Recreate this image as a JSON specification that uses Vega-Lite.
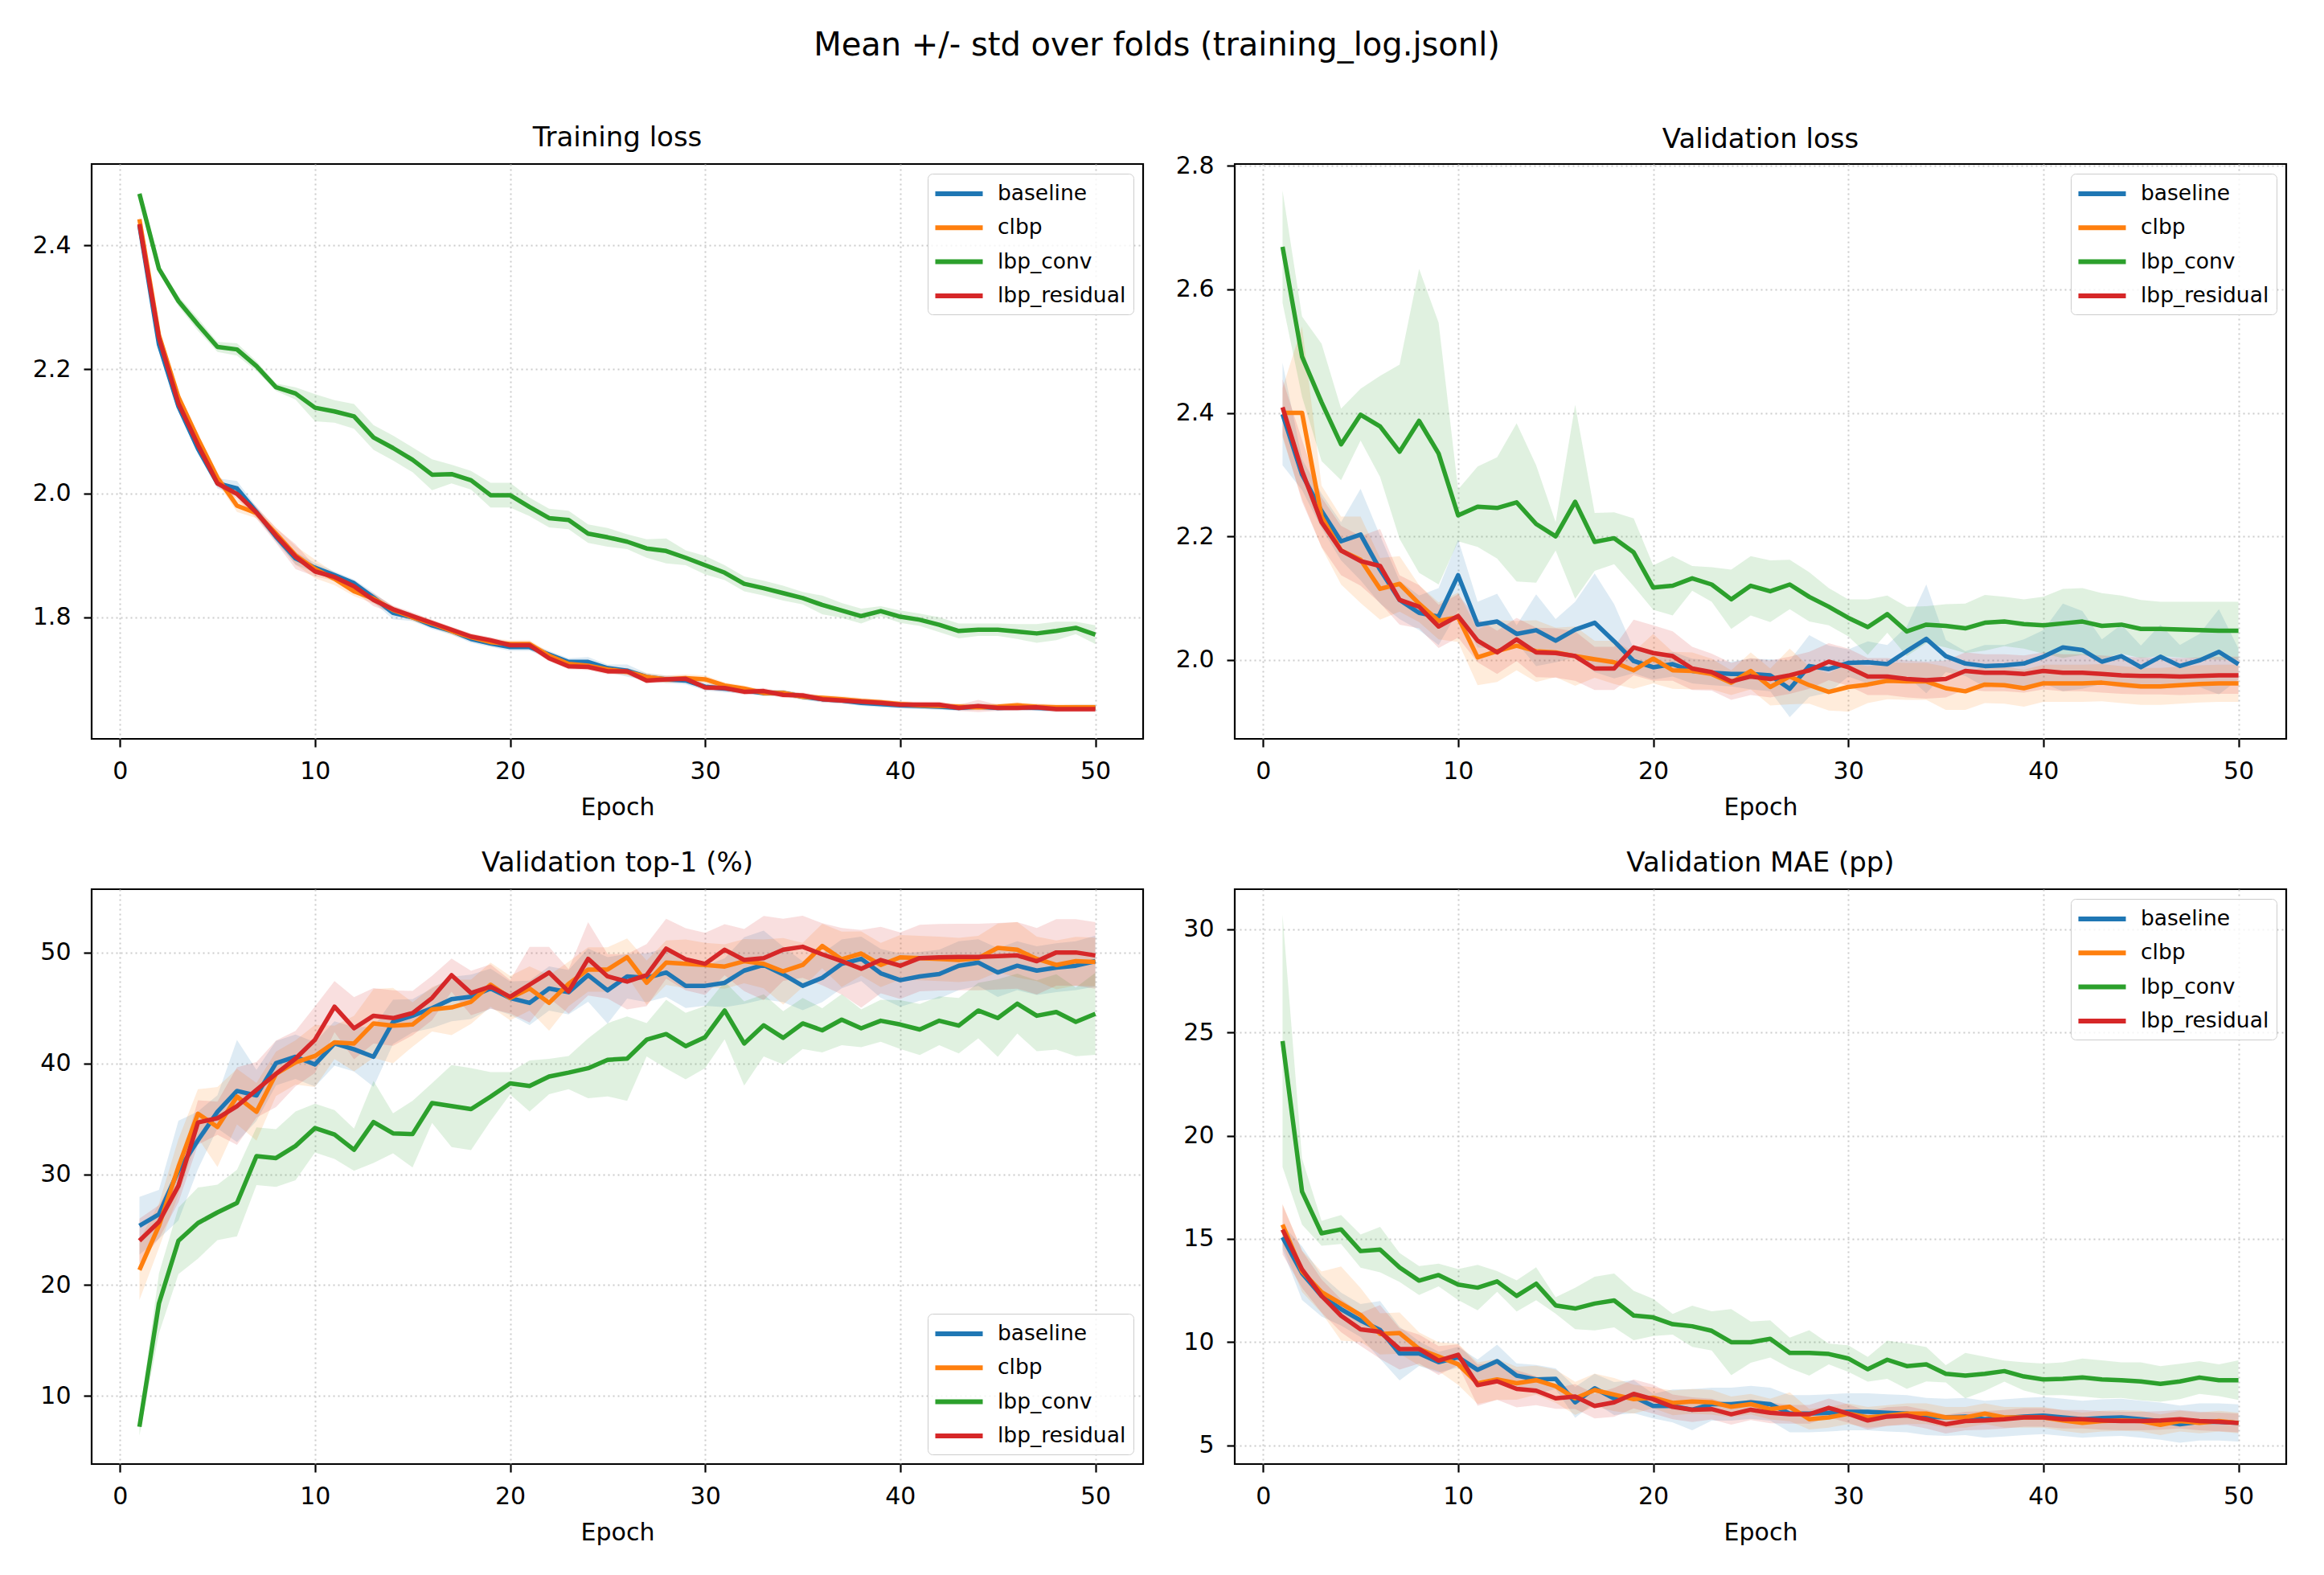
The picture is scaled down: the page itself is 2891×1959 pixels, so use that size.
{
"$schema":"https://vega.github.io/schema/vega-lite/v6.json",
"background":"white",
"padding":{"left":32,"top":36,"right":10,"bottom":10},
"title":{"text":"Mean +/- std over folds (training_log.jsonl)","fontSize":40,"frame":"bounds","offset":45,"anchor":"middle","baseline":"alphabetic"},
"config":{
"font":"DejaVu Sans",
"view":{"stroke":"#000","strokeWidth":2.2},
"axis":{"domain":false,"grid":true,"gridColor":"#cccccc","gridDash":[2,4],"gridWidth":2,"ticks":true,"tickColor":"#000","tickSize":10,"tickWidth":2.2,"labelFont":"DejaVu Sans","labelFontSize":30,"labelColor":"#000","labelFlush":false,"labelPadding":15,"titleFont":"DejaVu Sans","titleFontSize":30,"titleFontWeight":"normal","titleColor":"#000","titlePadding":15},
"axisY":{"minExtent":80,"maxExtent":80,"labelPadding":16},
"title":{"font":"DejaVu Sans","fontSize":34,"fontWeight":"normal","color":"#000","baseline":"alphabetic","offset":15,"anchor":"middle"},
"legend":{"offset":12,"padding":9,"fillColor":"rgba(255,255,255,0.8)","strokeColor":"#cccccc","cornerRadius":6,"symbolType":"M-2.27,0H2.27","symbolSize":676,"symbolStrokeWidth":6,"symbolOffset":14,"labelOffset":32,"rowPadding":12.3,"labelFont":"DejaVu Sans","labelFontSize":26.5,"labelColor":"#000"}
},
"columns":2,
"spacing":{"row":34,"column":30},
"resolve":{"scale":{"stroke":"independent","fill":"independent"},"legend":{"stroke":"independent","fill":"independent"}},
"datasets":{
"tl":[
{"m":"baseline","e":1,"y":2.432,"s":0.005},{"m":"baseline","e":2,"y":2.240,"s":0.006},{"m":"baseline","e":3,"y":2.140,"s":0.006},{"m":"baseline","e":4,"y":2.072,"s":0.008},{"m":"baseline","e":5,"y":2.016,"s":0.008},{"m":"baseline","e":6,"y":2.008,"s":0.012},{"m":"baseline","e":7,"y":1.970,"s":0.008},{"m":"baseline","e":8,"y":1.930,"s":0.008},{"m":"baseline","e":9,"y":1.895,"s":0.01},{"m":"baseline","e":10,"y":1.880,"s":0.008},
{"m":"baseline","e":11,"y":1.868,"s":0.006},{"m":"baseline","e":12,"y":1.855,"s":0.006},{"m":"baseline","e":13,"y":1.832,"s":0.008},{"m":"baseline","e":14,"y":1.807,"s":0.01},{"m":"baseline","e":15,"y":1.800,"s":0.006},{"m":"baseline","e":16,"y":1.787,"s":0.006},{"m":"baseline","e":17,"y":1.778,"s":0.006},{"m":"baseline","e":18,"y":1.765,"s":0.006},{"m":"baseline","e":19,"y":1.758,"s":0.006},{"m":"baseline","e":20,"y":1.752,"s":0.006},
{"m":"baseline","e":21,"y":1.752,"s":0.006},{"m":"baseline","e":22,"y":1.740,"s":0.006},{"m":"baseline","e":23,"y":1.728,"s":0.006},{"m":"baseline","e":24,"y":1.728,"s":0.008},{"m":"baseline","e":25,"y":1.718,"s":0.006},{"m":"baseline","e":26,"y":1.714,"s":0.01},{"m":"baseline","e":27,"y":1.704,"s":0.006},{"m":"baseline","e":28,"y":1.700,"s":0.006},{"m":"baseline","e":29,"y":1.698,"s":0.006},{"m":"baseline","e":30,"y":1.688,"s":0.006},
{"m":"baseline","e":31,"y":1.685,"s":0.006},{"m":"baseline","e":32,"y":1.682,"s":0.005},{"m":"baseline","e":33,"y":1.678,"s":0.005},{"m":"baseline","e":34,"y":1.678,"s":0.005},{"m":"baseline","e":35,"y":1.672,"s":0.005},{"m":"baseline","e":36,"y":1.668,"s":0.005},{"m":"baseline","e":37,"y":1.666,"s":0.005},{"m":"baseline","e":38,"y":1.662,"s":0.005},{"m":"baseline","e":39,"y":1.660,"s":0.005},{"m":"baseline","e":40,"y":1.658,"s":0.005},
{"m":"baseline","e":41,"y":1.657,"s":0.005},{"m":"baseline","e":42,"y":1.656,"s":0.005},{"m":"baseline","e":43,"y":1.654,"s":0.005},{"m":"baseline","e":44,"y":1.656,"s":0.005},{"m":"baseline","e":45,"y":1.654,"s":0.005},{"m":"baseline","e":46,"y":1.655,"s":0.005},{"m":"baseline","e":47,"y":1.654,"s":0.005},{"m":"baseline","e":48,"y":1.653,"s":0.005},{"m":"baseline","e":49,"y":1.654,"s":0.005},{"m":"baseline","e":50,"y":1.654,"s":0.005},
{"m":"clbp","e":1,"y":2.442,"s":0.005},{"m":"clbp","e":2,"y":2.255,"s":0.006},{"m":"clbp","e":3,"y":2.155,"s":0.008},{"m":"clbp","e":4,"y":2.088,"s":0.008},{"m":"clbp","e":5,"y":2.025,"s":0.008},{"m":"clbp","e":6,"y":1.980,"s":0.01},{"m":"clbp","e":7,"y":1.968,"s":0.008},{"m":"clbp","e":8,"y":1.935,"s":0.01},{"m":"clbp","e":9,"y":1.900,"s":0.015},{"m":"clbp","e":10,"y":1.878,"s":0.015},
{"m":"clbp","e":11,"y":1.862,"s":0.01},{"m":"clbp","e":12,"y":1.842,"s":0.008},{"m":"clbp","e":13,"y":1.830,"s":0.008},{"m":"clbp","e":14,"y":1.812,"s":0.006},{"m":"clbp","e":15,"y":1.800,"s":0.006},{"m":"clbp","e":16,"y":1.790,"s":0.006},{"m":"clbp","e":17,"y":1.778,"s":0.006},{"m":"clbp","e":18,"y":1.768,"s":0.006},{"m":"clbp","e":19,"y":1.760,"s":0.006},{"m":"clbp","e":20,"y":1.757,"s":0.006},
{"m":"clbp","e":21,"y":1.757,"s":0.006},{"m":"clbp","e":22,"y":1.738,"s":0.006},{"m":"clbp","e":23,"y":1.725,"s":0.006},{"m":"clbp","e":24,"y":1.722,"s":0.006},{"m":"clbp","e":25,"y":1.716,"s":0.006},{"m":"clbp","e":26,"y":1.712,"s":0.006},{"m":"clbp","e":27,"y":1.704,"s":0.006},{"m":"clbp","e":28,"y":1.700,"s":0.006},{"m":"clbp","e":29,"y":1.702,"s":0.006},{"m":"clbp","e":30,"y":1.700,"s":0.006},
{"m":"clbp","e":31,"y":1.690,"s":0.005},{"m":"clbp","e":32,"y":1.685,"s":0.005},{"m":"clbp","e":33,"y":1.678,"s":0.005},{"m":"clbp","e":34,"y":1.678,"s":0.005},{"m":"clbp","e":35,"y":1.672,"s":0.005},{"m":"clbp","e":36,"y":1.670,"s":0.005},{"m":"clbp","e":37,"y":1.668,"s":0.005},{"m":"clbp","e":38,"y":1.665,"s":0.005},{"m":"clbp","e":39,"y":1.663,"s":0.005},{"m":"clbp","e":40,"y":1.660,"s":0.005},
{"m":"clbp","e":41,"y":1.658,"s":0.005},{"m":"clbp","e":42,"y":1.657,"s":0.005},{"m":"clbp","e":43,"y":1.656,"s":0.005},{"m":"clbp","e":44,"y":1.655,"s":0.005},{"m":"clbp","e":45,"y":1.656,"s":0.005},{"m":"clbp","e":46,"y":1.658,"s":0.005},{"m":"clbp","e":47,"y":1.656,"s":0.005},{"m":"clbp","e":48,"y":1.655,"s":0.005},{"m":"clbp","e":49,"y":1.655,"s":0.005},{"m":"clbp","e":50,"y":1.655,"s":0.005},
{"m":"lbp_conv","e":1,"y":2.483,"s":0.003},{"m":"lbp_conv","e":2,"y":2.362,"s":0.005},{"m":"lbp_conv","e":3,"y":2.310,"s":0.008},{"m":"lbp_conv","e":4,"y":2.272,"s":0.01},{"m":"lbp_conv","e":5,"y":2.236,"s":0.008},{"m":"lbp_conv","e":6,"y":2.232,"s":0.01},{"m":"lbp_conv","e":7,"y":2.205,"s":0.008},{"m":"lbp_conv","e":8,"y":2.171,"s":0.006},{"m":"lbp_conv","e":9,"y":2.161,"s":0.01},{"m":"lbp_conv","e":10,"y":2.138,"s":0.022},
{"m":"lbp_conv","e":11,"y":2.132,"s":0.018},{"m":"lbp_conv","e":12,"y":2.124,"s":0.02},{"m":"lbp_conv","e":13,"y":2.090,"s":0.02},{"m":"lbp_conv","e":14,"y":2.073,"s":0.02},{"m":"lbp_conv","e":15,"y":2.054,"s":0.02},{"m":"lbp_conv","e":16,"y":2.030,"s":0.025},{"m":"lbp_conv","e":17,"y":2.031,"s":0.015},{"m":"lbp_conv","e":18,"y":2.021,"s":0.015},{"m":"lbp_conv","e":19,"y":1.997,"s":0.02},{"m":"lbp_conv","e":20,"y":1.997,"s":0.02},
{"m":"lbp_conv","e":21,"y":1.978,"s":0.015},{"m":"lbp_conv","e":22,"y":1.960,"s":0.015},{"m":"lbp_conv","e":23,"y":1.957,"s":0.015},{"m":"lbp_conv","e":24,"y":1.935,"s":0.015},{"m":"lbp_conv","e":25,"y":1.929,"s":0.015},{"m":"lbp_conv","e":26,"y":1.922,"s":0.012},{"m":"lbp_conv","e":27,"y":1.911,"s":0.015},{"m":"lbp_conv","e":28,"y":1.907,"s":0.02},{"m":"lbp_conv","e":29,"y":1.896,"s":0.012},{"m":"lbp_conv","e":30,"y":1.884,"s":0.015},
{"m":"lbp_conv","e":31,"y":1.872,"s":0.012},{"m":"lbp_conv","e":32,"y":1.854,"s":0.012},{"m":"lbp_conv","e":33,"y":1.847,"s":0.012},{"m":"lbp_conv","e":34,"y":1.839,"s":0.012},{"m":"lbp_conv","e":35,"y":1.831,"s":0.01},{"m":"lbp_conv","e":36,"y":1.820,"s":0.015},{"m":"lbp_conv","e":37,"y":1.811,"s":0.012},{"m":"lbp_conv","e":38,"y":1.802,"s":0.012},{"m":"lbp_conv","e":39,"y":1.810,"s":0.008},{"m":"lbp_conv","e":40,"y":1.801,"s":0.01},
{"m":"lbp_conv","e":41,"y":1.796,"s":0.01},{"m":"lbp_conv","e":42,"y":1.788,"s":0.012},{"m":"lbp_conv","e":43,"y":1.778,"s":0.012},{"m":"lbp_conv","e":44,"y":1.780,"s":0.01},{"m":"lbp_conv","e":45,"y":1.780,"s":0.01},{"m":"lbp_conv","e":46,"y":1.777,"s":0.012},{"m":"lbp_conv","e":47,"y":1.774,"s":0.015},{"m":"lbp_conv","e":48,"y":1.778,"s":0.015},{"m":"lbp_conv","e":49,"y":1.783,"s":0.01},{"m":"lbp_conv","e":50,"y":1.772,"s":0.015},
{"m":"lbp_residual","e":1,"y":2.434,"s":0.005},{"m":"lbp_residual","e":2,"y":2.251,"s":0.005},{"m":"lbp_residual","e":3,"y":2.145,"s":0.008},{"m":"lbp_residual","e":4,"y":2.078,"s":0.008},{"m":"lbp_residual","e":5,"y":2.016,"s":0.005},{"m":"lbp_residual","e":6,"y":1.999,"s":0.008},{"m":"lbp_residual","e":7,"y":1.969,"s":0.01},{"m":"lbp_residual","e":8,"y":1.932,"s":0.012},{"m":"lbp_residual","e":9,"y":1.898,"s":0.02},{"m":"lbp_residual","e":10,"y":1.874,"s":0.008},
{"m":"lbp_residual","e":11,"y":1.865,"s":0.006},{"m":"lbp_residual","e":12,"y":1.850,"s":0.008},{"m":"lbp_residual","e":13,"y":1.828,"s":0.01},{"m":"lbp_residual","e":14,"y":1.813,"s":0.006},{"m":"lbp_residual","e":15,"y":1.802,"s":0.006},{"m":"lbp_residual","e":16,"y":1.791,"s":0.005},{"m":"lbp_residual","e":17,"y":1.780,"s":0.005},{"m":"lbp_residual","e":18,"y":1.769,"s":0.005},{"m":"lbp_residual","e":19,"y":1.763,"s":0.005},{"m":"lbp_residual","e":20,"y":1.755,"s":0.005},
{"m":"lbp_residual","e":21,"y":1.755,"s":0.006},{"m":"lbp_residual","e":22,"y":1.734,"s":0.005},{"m":"lbp_residual","e":23,"y":1.721,"s":0.005},{"m":"lbp_residual","e":24,"y":1.720,"s":0.005},{"m":"lbp_residual","e":25,"y":1.713,"s":0.005},{"m":"lbp_residual","e":26,"y":1.713,"s":0.005},{"m":"lbp_residual","e":27,"y":1.698,"s":0.005},{"m":"lbp_residual","e":28,"y":1.700,"s":0.005},{"m":"lbp_residual","e":29,"y":1.701,"s":0.005},{"m":"lbp_residual","e":30,"y":1.687,"s":0.005},
{"m":"lbp_residual","e":31,"y":1.686,"s":0.005},{"m":"lbp_residual","e":32,"y":1.680,"s":0.005},{"m":"lbp_residual","e":33,"y":1.681,"s":0.005},{"m":"lbp_residual","e":34,"y":1.675,"s":0.005},{"m":"lbp_residual","e":35,"y":1.674,"s":0.005},{"m":"lbp_residual","e":36,"y":1.668,"s":0.005},{"m":"lbp_residual","e":37,"y":1.666,"s":0.005},{"m":"lbp_residual","e":38,"y":1.664,"s":0.005},{"m":"lbp_residual","e":39,"y":1.662,"s":0.005},{"m":"lbp_residual","e":40,"y":1.659,"s":0.005},
{"m":"lbp_residual","e":41,"y":1.659,"s":0.005},{"m":"lbp_residual","e":42,"y":1.659,"s":0.005},{"m":"lbp_residual","e":43,"y":1.654,"s":0.005},{"m":"lbp_residual","e":44,"y":1.657,"s":0.01},{"m":"lbp_residual","e":45,"y":1.654,"s":0.005},{"m":"lbp_residual","e":46,"y":1.654,"s":0.005},{"m":"lbp_residual","e":47,"y":1.655,"s":0.005},{"m":"lbp_residual","e":48,"y":1.652,"s":0.005},{"m":"lbp_residual","e":49,"y":1.652,"s":0.005},{"m":"lbp_residual","e":50,"y":1.652,"s":0.005}
],
"vl":[
{"m":"baseline","e":1,"y":2.398,"s":0.083},{"m":"baseline","e":2,"y":2.300,"s":0.025},{"m":"baseline","e":3,"y":2.241,"s":0.028},{"m":"baseline","e":4,"y":2.192,"s":0.031},{"m":"baseline","e":5,"y":2.203,"s":0.074},{"m":"baseline","e":6,"y":2.146,"s":0.055},{"m":"baseline","e":7,"y":2.097,"s":0.031},{"m":"baseline","e":8,"y":2.076,"s":0.028},{"m":"baseline","e":9,"y":2.070,"s":0.046},{"m":"baseline","e":10,"y":2.137,"s":0.058},
{"m":"baseline","e":11,"y":2.057,"s":0.037},{"m":"baseline","e":12,"y":2.062,"s":0.045},{"m":"baseline","e":13,"y":2.042,"s":0.014},{"m":"baseline","e":14,"y":2.048,"s":0.058},{"m":"baseline","e":15,"y":2.031,"s":0.035},{"m":"baseline","e":16,"y":2.049,"s":0.045},{"m":"baseline","e":17,"y":2.060,"s":0.08},{"m":"baseline","e":18,"y":2.030,"s":0.06},{"m":"baseline","e":19,"y":1.998,"s":0.02},{"m":"baseline","e":20,"y":1.988,"s":0.02},
{"m":"baseline","e":21,"y":1.993,"s":0.02},{"m":"baseline","e":22,"y":1.982,"s":0.02},{"m":"baseline","e":23,"y":1.979,"s":0.02},{"m":"baseline","e":24,"y":1.977,"s":0.02},{"m":"baseline","e":25,"y":1.977,"s":0.025},{"m":"baseline","e":26,"y":1.975,"s":0.026},{"m":"baseline","e":27,"y":1.953,"s":0.046},{"m":"baseline","e":28,"y":1.990,"s":0.05},{"m":"baseline","e":29,"y":1.985,"s":0.038},{"m":"baseline","e":30,"y":1.995,"s":0.022},
{"m":"baseline","e":31,"y":1.996,"s":0.034},{"m":"baseline","e":32,"y":1.993,"s":0.031},{"m":"baseline","e":33,"y":2.014,"s":0.04},{"m":"baseline","e":34,"y":2.034,"s":0.088},{"m":"baseline","e":35,"y":2.006,"s":0.026},{"m":"baseline","e":36,"y":1.994,"s":0.02},{"m":"baseline","e":37,"y":1.990,"s":0.034},{"m":"baseline","e":38,"y":1.991,"s":0.033},{"m":"baseline","e":39,"y":1.994,"s":0.039},{"m":"baseline","e":40,"y":2.005,"s":0.043},
{"m":"baseline","e":41,"y":2.020,"s":0.071},{"m":"baseline","e":42,"y":2.016,"s":0.063},{"m":"baseline","e":43,"y":1.997,"s":0.036},{"m":"baseline","e":44,"y":2.006,"s":0.051},{"m":"baseline","e":45,"y":1.988,"s":0.035},{"m":"baseline","e":46,"y":2.005,"s":0.052},{"m":"baseline","e":47,"y":1.990,"s":0.034},{"m":"baseline","e":48,"y":1.999,"s":0.043},{"m":"baseline","e":49,"y":2.013,"s":0.069},{"m":"baseline","e":50,"y":1.993,"s":0.025},
{"m":"clbp","e":1,"y":2.400,"s":0.04},{"m":"clbp","e":2,"y":2.400,"s":0.14},{"m":"clbp","e":3,"y":2.232,"s":0.05},{"m":"clbp","e":4,"y":2.177,"s":0.055},{"m":"clbp","e":5,"y":2.162,"s":0.07},{"m":"clbp","e":6,"y":2.115,"s":0.05},{"m":"clbp","e":7,"y":2.123,"s":0.045},{"m":"clbp","e":8,"y":2.091,"s":0.03},{"m":"clbp","e":9,"y":2.063,"s":0.03},{"m":"clbp","e":10,"y":2.069,"s":0.04},
{"m":"clbp","e":11,"y":2.004,"s":0.045},{"m":"clbp","e":12,"y":2.014,"s":0.05},{"m":"clbp","e":13,"y":2.023,"s":0.04},{"m":"clbp","e":14,"y":2.014,"s":0.05},{"m":"clbp","e":15,"y":2.012,"s":0.04},{"m":"clbp","e":16,"y":2.006,"s":0.048},{"m":"clbp","e":17,"y":2.001,"s":0.03},{"m":"clbp","e":18,"y":1.996,"s":0.035},{"m":"clbp","e":19,"y":1.983,"s":0.03},{"m":"clbp","e":20,"y":2.002,"s":0.04},
{"m":"clbp","e":21,"y":1.983,"s":0.03},{"m":"clbp","e":22,"y":1.982,"s":0.03},{"m":"clbp","e":23,"y":1.977,"s":0.025},{"m":"clbp","e":24,"y":1.963,"s":0.02},{"m":"clbp","e":25,"y":1.982,"s":0.03},{"m":"clbp","e":26,"y":1.956,"s":0.03},{"m":"clbp","e":27,"y":1.973,"s":0.045},{"m":"clbp","e":28,"y":1.959,"s":0.03},{"m":"clbp","e":29,"y":1.948,"s":0.03},{"m":"clbp","e":30,"y":1.956,"s":0.04},
{"m":"clbp","e":31,"y":1.960,"s":0.03},{"m":"clbp","e":32,"y":1.966,"s":0.03},{"m":"clbp","e":33,"y":1.965,"s":0.03},{"m":"clbp","e":34,"y":1.965,"s":0.03},{"m":"clbp","e":35,"y":1.954,"s":0.035},{"m":"clbp","e":36,"y":1.949,"s":0.03},{"m":"clbp","e":37,"y":1.960,"s":0.03},{"m":"clbp","e":38,"y":1.959,"s":0.03},{"m":"clbp","e":39,"y":1.954,"s":0.03},{"m":"clbp","e":40,"y":1.962,"s":0.03},
{"m":"clbp","e":41,"y":1.962,"s":0.03},{"m":"clbp","e":42,"y":1.962,"s":0.03},{"m":"clbp","e":43,"y":1.963,"s":0.03},{"m":"clbp","e":44,"y":1.960,"s":0.03},{"m":"clbp","e":45,"y":1.957,"s":0.03},{"m":"clbp","e":46,"y":1.957,"s":0.03},{"m":"clbp","e":47,"y":1.959,"s":0.03},{"m":"clbp","e":48,"y":1.961,"s":0.03},{"m":"clbp","e":49,"y":1.962,"s":0.03},{"m":"clbp","e":50,"y":1.962,"s":0.03},
{"m":"lbp_conv","e":1,"y":2.669,"s":0.091},{"m":"lbp_conv","e":2,"y":2.491,"s":0.065},{"m":"lbp_conv","e":3,"y":2.417,"s":0.095},{"m":"lbp_conv","e":4,"y":2.349,"s":0.058},{"m":"lbp_conv","e":5,"y":2.397,"s":0.042},{"m":"lbp_conv","e":6,"y":2.378,"s":0.082},{"m":"lbp_conv","e":7,"y":2.337,"s":0.141},{"m":"lbp_conv","e":8,"y":2.387,"s":0.246},{"m":"lbp_conv","e":9,"y":2.334,"s":0.212},{"m":"lbp_conv","e":10,"y":2.234,"s":0.042},
{"m":"lbp_conv","e":11,"y":2.248,"s":0.065},{"m":"lbp_conv","e":12,"y":2.246,"s":0.082},{"m":"lbp_conv","e":13,"y":2.255,"s":0.128},{"m":"lbp_conv","e":14,"y":2.220,"s":0.095},{"m":"lbp_conv","e":15,"y":2.200,"s":0.023},{"m":"lbp_conv","e":16,"y":2.256,"s":0.157},{"m":"lbp_conv","e":17,"y":2.191,"s":0.047},{"m":"lbp_conv","e":18,"y":2.197,"s":0.042},{"m":"lbp_conv","e":19,"y":2.174,"s":0.055},{"m":"lbp_conv","e":20,"y":2.117,"s":0.036},
{"m":"lbp_conv","e":21,"y":2.120,"s":0.048},{"m":"lbp_conv","e":22,"y":2.132,"s":0.02},{"m":"lbp_conv","e":23,"y":2.122,"s":0.028},{"m":"lbp_conv","e":24,"y":2.098,"s":0.048},{"m":"lbp_conv","e":25,"y":2.120,"s":0.048},{"m":"lbp_conv","e":26,"y":2.111,"s":0.05},{"m":"lbp_conv","e":27,"y":2.122,"s":0.04},{"m":"lbp_conv","e":28,"y":2.102,"s":0.04},{"m":"lbp_conv","e":29,"y":2.086,"s":0.03},{"m":"lbp_conv","e":30,"y":2.068,"s":0.03},
{"m":"lbp_conv","e":31,"y":2.053,"s":0.045},{"m":"lbp_conv","e":32,"y":2.074,"s":0.03},{"m":"lbp_conv","e":33,"y":2.046,"s":0.04},{"m":"lbp_conv","e":34,"y":2.057,"s":0.03},{"m":"lbp_conv","e":35,"y":2.055,"s":0.035},{"m":"lbp_conv","e":36,"y":2.051,"s":0.04},{"m":"lbp_conv","e":37,"y":2.060,"s":0.045},{"m":"lbp_conv","e":38,"y":2.062,"s":0.04},{"m":"lbp_conv","e":39,"y":2.058,"s":0.04},{"m":"lbp_conv","e":40,"y":2.056,"s":0.046},
{"m":"lbp_conv","e":41,"y":2.059,"s":0.056},{"m":"lbp_conv","e":42,"y":2.062,"s":0.054},{"m":"lbp_conv","e":43,"y":2.055,"s":0.053},{"m":"lbp_conv","e":44,"y":2.057,"s":0.047},{"m":"lbp_conv","e":45,"y":2.050,"s":0.047},{"m":"lbp_conv","e":46,"y":2.050,"s":0.044},{"m":"lbp_conv","e":47,"y":2.049,"s":0.045},{"m":"lbp_conv","e":48,"y":2.048,"s":0.046},{"m":"lbp_conv","e":49,"y":2.047,"s":0.047},{"m":"lbp_conv","e":50,"y":2.047,"s":0.047},
{"m":"lbp_residual","e":1,"y":2.409,"s":0.045},{"m":"lbp_residual","e":2,"y":2.306,"s":0.05},{"m":"lbp_residual","e":3,"y":2.223,"s":0.04},{"m":"lbp_residual","e":4,"y":2.177,"s":0.04},{"m":"lbp_residual","e":5,"y":2.160,"s":0.04},{"m":"lbp_residual","e":6,"y":2.152,"s":0.06},{"m":"lbp_residual","e":7,"y":2.097,"s":0.04},{"m":"lbp_residual","e":8,"y":2.086,"s":0.035},{"m":"lbp_residual","e":9,"y":2.054,"s":0.035},{"m":"lbp_residual","e":10,"y":2.071,"s":0.035},
{"m":"lbp_residual","e":11,"y":2.031,"s":0.035},{"m":"lbp_residual","e":12,"y":2.012,"s":0.035},{"m":"lbp_residual","e":13,"y":2.033,"s":0.035},{"m":"lbp_residual","e":14,"y":2.012,"s":0.04},{"m":"lbp_residual","e":15,"y":2.011,"s":0.04},{"m":"lbp_residual","e":16,"y":2.006,"s":0.04},{"m":"lbp_residual","e":17,"y":1.986,"s":0.035},{"m":"lbp_residual","e":18,"y":1.986,"s":0.035},{"m":"lbp_residual","e":19,"y":2.020,"s":0.045},{"m":"lbp_residual","e":20,"y":2.011,"s":0.045},
{"m":"lbp_residual","e":21,"y":2.006,"s":0.04},{"m":"lbp_residual","e":22,"y":1.986,"s":0.035},{"m":"lbp_residual","e":23,"y":1.980,"s":0.03},{"m":"lbp_residual","e":24,"y":1.965,"s":0.03},{"m":"lbp_residual","e":25,"y":1.973,"s":0.03},{"m":"lbp_residual","e":26,"y":1.969,"s":0.03},{"m":"lbp_residual","e":27,"y":1.975,"s":0.03},{"m":"lbp_residual","e":28,"y":1.983,"s":0.03},{"m":"lbp_residual","e":29,"y":1.997,"s":0.03},{"m":"lbp_residual","e":30,"y":1.988,"s":0.03},
{"m":"lbp_residual","e":31,"y":1.973,"s":0.03},{"m":"lbp_residual","e":32,"y":1.973,"s":0.03},{"m":"lbp_residual","e":33,"y":1.969,"s":0.03},{"m":"lbp_residual","e":34,"y":1.967,"s":0.03},{"m":"lbp_residual","e":35,"y":1.969,"s":0.03},{"m":"lbp_residual","e":36,"y":1.982,"s":0.03},{"m":"lbp_residual","e":37,"y":1.979,"s":0.03},{"m":"lbp_residual","e":38,"y":1.979,"s":0.03},{"m":"lbp_residual","e":39,"y":1.977,"s":0.03},{"m":"lbp_residual","e":40,"y":1.982,"s":0.03},
{"m":"lbp_residual","e":41,"y":1.979,"s":0.03},{"m":"lbp_residual","e":42,"y":1.979,"s":0.03},{"m":"lbp_residual","e":43,"y":1.977,"s":0.03},{"m":"lbp_residual","e":44,"y":1.975,"s":0.03},{"m":"lbp_residual","e":45,"y":1.974,"s":0.03},{"m":"lbp_residual","e":46,"y":1.974,"s":0.03},{"m":"lbp_residual","e":47,"y":1.973,"s":0.03},{"m":"lbp_residual","e":48,"y":1.974,"s":0.03},{"m":"lbp_residual","e":49,"y":1.975,"s":0.03},{"m":"lbp_residual","e":50,"y":1.975,"s":0.03}
],
"t1":[
{"m":"baseline","e":1,"y":25.36,"s":2.6},{"m":"baseline","e":2,"y":26.39,"s":2.2},{"m":"baseline","e":3,"y":30.33,"s":4.5},{"m":"baseline","e":4,"y":33.06,"s":2.6},{"m":"baseline","e":5,"y":35.63,"s":1.5},{"m":"baseline","e":6,"y":37.51,"s":4.6},{"m":"baseline","e":7,"y":37.10,"s":2.3},{"m":"baseline","e":8,"y":40.01,"s":2.0},{"m":"baseline","e":9,"y":40.59,"s":2.0},{"m":"baseline","e":10,"y":39.90,"s":2.0},
{"m":"baseline","e":11,"y":41.79,"s":2.0},{"m":"baseline","e":12,"y":41.27,"s":2.0},{"m":"baseline","e":13,"y":40.59,"s":2.7},{"m":"baseline","e":14,"y":43.74,"s":2.0},{"m":"baseline","e":15,"y":44.29,"s":1.5},{"m":"baseline","e":16,"y":44.97,"s":1.8},{"m":"baseline","e":17,"y":45.79,"s":2.0},{"m":"baseline","e":18,"y":46.00,"s":2.0},{"m":"baseline","e":19,"y":46.75,"s":1.8},{"m":"baseline","e":20,"y":45.89,"s":1.5},
{"m":"baseline","e":21,"y":45.45,"s":2.0},{"m":"baseline","e":22,"y":46.75,"s":2.0},{"m":"baseline","e":23,"y":46.41,"s":2.0},{"m":"baseline","e":24,"y":47.95,"s":2.4},{"m":"baseline","e":25,"y":46.58,"s":3.0},{"m":"baseline","e":26,"y":47.84,"s":2.0},{"m":"baseline","e":27,"y":47.71,"s":2.2},{"m":"baseline","e":28,"y":48.19,"s":2.2},{"m":"baseline","e":29,"y":46.99,"s":2.0},{"m":"baseline","e":30,"y":46.99,"s":1.8},
{"m":"baseline","e":31,"y":47.26,"s":2.2},{"m":"baseline","e":32,"y":48.36,"s":3.0},{"m":"baseline","e":33,"y":48.87,"s":3.1},{"m":"baseline","e":34,"y":48.02,"s":2.5},{"m":"baseline","e":35,"y":46.99,"s":2.2},{"m":"baseline","e":36,"y":47.71,"s":2.2},{"m":"baseline","e":37,"y":48.97,"s":2.2},{"m":"baseline","e":38,"y":49.42,"s":2.0},{"m":"baseline","e":39,"y":48.12,"s":2.2},{"m":"baseline","e":40,"y":47.50,"s":2.4},
{"m":"baseline","e":41,"y":47.84,"s":2.2},{"m":"baseline","e":42,"y":48.05,"s":2.2},{"m":"baseline","e":43,"y":48.80,"s":2.2},{"m":"baseline","e":44,"y":49.08,"s":2.1},{"m":"baseline","e":45,"y":48.19,"s":2.2},{"m":"baseline","e":46,"y":48.80,"s":2.2},{"m":"baseline","e":47,"y":48.36,"s":2.2},{"m":"baseline","e":48,"y":48.63,"s":2.2},{"m":"baseline","e":49,"y":48.80,"s":2.2},{"m":"baseline","e":50,"y":49.21,"s":2.3},
{"m":"clbp","e":1,"y":21.36,"s":2.7},{"m":"clbp","e":2,"y":25.36,"s":2.0},{"m":"clbp","e":3,"y":30.67,"s":2.5},{"m":"clbp","e":4,"y":35.46,"s":2.2},{"m":"clbp","e":5,"y":34.26,"s":3.6},{"m":"clbp","e":6,"y":37.00,"s":2.5},{"m":"clbp","e":7,"y":35.63,"s":2.6},{"m":"clbp","e":8,"y":39.05,"s":2.0},{"m":"clbp","e":9,"y":40.08,"s":2.0},{"m":"clbp","e":10,"y":40.66,"s":2.8},
{"m":"clbp","e":11,"y":41.89,"s":1.5},{"m":"clbp","e":12,"y":41.79,"s":2.5},{"m":"clbp","e":13,"y":43.60,"s":3.1},{"m":"clbp","e":14,"y":43.40,"s":3.4},{"m":"clbp","e":15,"y":43.50,"s":2.0},{"m":"clbp","e":16,"y":44.87,"s":2.0},{"m":"clbp","e":17,"y":45.04,"s":2.5},{"m":"clbp","e":18,"y":45.55,"s":2.0},{"m":"clbp","e":19,"y":47.09,"s":2.0},{"m":"clbp","e":20,"y":45.89,"s":2.0},
{"m":"clbp","e":21,"y":46.75,"s":2.0},{"m":"clbp","e":22,"y":45.45,"s":2.5},{"m":"clbp","e":23,"y":47.16,"s":2.0},{"m":"clbp","e":24,"y":48.46,"s":2.0},{"m":"clbp","e":25,"y":48.46,"s":2.0},{"m":"clbp","e":26,"y":49.56,"s":1.7},{"m":"clbp","e":27,"y":47.26,"s":2.0},{"m":"clbp","e":28,"y":49.08,"s":2.0},{"m":"clbp","e":29,"y":48.97,"s":2.2},{"m":"clbp","e":30,"y":48.87,"s":2.0},
{"m":"clbp","e":31,"y":48.73,"s":2.0},{"m":"clbp","e":32,"y":49.21,"s":2.0},{"m":"clbp","e":33,"y":48.97,"s":2.2},{"m":"clbp","e":34,"y":48.29,"s":3.0},{"m":"clbp","e":35,"y":48.87,"s":2.0},{"m":"clbp","e":36,"y":50.58,"s":2.0},{"m":"clbp","e":37,"y":49.38,"s":2.5},{"m":"clbp","e":38,"y":49.90,"s":2.0},{"m":"clbp","e":39,"y":48.87,"s":2.0},{"m":"clbp","e":40,"y":49.56,"s":2.0},
{"m":"clbp","e":41,"y":49.49,"s":2.0},{"m":"clbp","e":42,"y":49.42,"s":2.0},{"m":"clbp","e":43,"y":49.32,"s":2.0},{"m":"clbp","e":44,"y":49.49,"s":2.0},{"m":"clbp","e":45,"y":50.41,"s":2.2},{"m":"clbp","e":46,"y":50.24,"s":2.5},{"m":"clbp","e":47,"y":49.42,"s":2.0},{"m":"clbp","e":48,"y":48.87,"s":2.2},{"m":"clbp","e":49,"y":49.21,"s":2.2},{"m":"clbp","e":50,"y":49.14,"s":2.2},
{"m":"lbp_conv","e":1,"y":7.23,"s":0.8},{"m":"lbp_conv","e":2,"y":18.35,"s":2.7},{"m":"lbp_conv","e":3,"y":24.00,"s":3.0},{"m":"lbp_conv","e":4,"y":25.60,"s":3.2},{"m":"lbp_conv","e":5,"y":26.56,"s":2.5},{"m":"lbp_conv","e":6,"y":27.41,"s":3.0},{"m":"lbp_conv","e":7,"y":31.63,"s":2.6},{"m":"lbp_conv","e":8,"y":31.46,"s":2.6},{"m":"lbp_conv","e":9,"y":32.55,"s":3.1},{"m":"lbp_conv","e":10,"y":34.16,"s":2.2},
{"m":"lbp_conv","e":11,"y":33.58,"s":2.2},{"m":"lbp_conv","e":12,"y":32.21,"s":1.9},{"m":"lbp_conv","e":13,"y":34.71,"s":3.7},{"m":"lbp_conv","e":14,"y":33.69,"s":1.8},{"m":"lbp_conv","e":15,"y":33.62,"s":3.0},{"m":"lbp_conv","e":16,"y":36.42,"s":1.8},{"m":"lbp_conv","e":17,"y":36.14,"s":3.7},{"m":"lbp_conv","e":18,"y":35.87,"s":3.7},{"m":"lbp_conv","e":19,"y":37.00,"s":2.2},{"m":"lbp_conv","e":20,"y":38.20,"s":1.0},
{"m":"lbp_conv","e":21,"y":37.96,"s":2.3},{"m":"lbp_conv","e":22,"y":38.81,"s":1.6},{"m":"lbp_conv","e":23,"y":39.16,"s":1.5},{"m":"lbp_conv","e":24,"y":39.56,"s":2.7},{"m":"lbp_conv","e":25,"y":40.32,"s":3.3},{"m":"lbp_conv","e":26,"y":40.42,"s":3.8},{"m":"lbp_conv","e":27,"y":42.13,"s":1.5},{"m":"lbp_conv","e":28,"y":42.64,"s":3.1},{"m":"lbp_conv","e":29,"y":41.55,"s":3.0},{"m":"lbp_conv","e":30,"y":42.37,"s":2.8},
{"m":"lbp_conv","e":31,"y":44.76,"s":2.6},{"m":"lbp_conv","e":32,"y":41.79,"s":3.8},{"m":"lbp_conv","e":33,"y":43.43,"s":2.8},{"m":"lbp_conv","e":34,"y":42.30,"s":2.4},{"m":"lbp_conv","e":35,"y":43.60,"s":2.3},{"m":"lbp_conv","e":36,"y":42.98,"s":2.0},{"m":"lbp_conv","e":37,"y":43.94,"s":2.3},{"m":"lbp_conv","e":38,"y":43.16,"s":1.7},{"m":"lbp_conv","e":39,"y":43.84,"s":1.9},{"m":"lbp_conv","e":40,"y":43.50,"s":2.2},
{"m":"lbp_conv","e":41,"y":43.05,"s":2.3},{"m":"lbp_conv","e":42,"y":43.84,"s":2.2},{"m":"lbp_conv","e":43,"y":43.40,"s":2.5},{"m":"lbp_conv","e":44,"y":44.76,"s":2.5},{"m":"lbp_conv","e":45,"y":44.08,"s":3.5},{"m":"lbp_conv","e":46,"y":45.38,"s":2.7},{"m":"lbp_conv","e":47,"y":44.29,"s":3.2},{"m":"lbp_conv","e":48,"y":44.63,"s":3.4},{"m":"lbp_conv","e":49,"y":43.74,"s":3.1},{"m":"lbp_conv","e":50,"y":44.46,"s":3.7},
{"m":"lbp_residual","e":1,"y":24.00,"s":2.0},{"m":"lbp_residual","e":2,"y":25.71,"s":1.5},{"m":"lbp_residual","e":3,"y":28.96,"s":1.5},{"m":"lbp_residual","e":4,"y":34.67,"s":2.0},{"m":"lbp_residual","e":5,"y":35.05,"s":1.5},{"m":"lbp_residual","e":6,"y":36.14,"s":3.5},{"m":"lbp_residual","e":7,"y":37.61,"s":2.5},{"m":"lbp_residual","e":8,"y":39.05,"s":3.0},{"m":"lbp_residual","e":9,"y":40.42,"s":2.5},{"m":"lbp_residual","e":10,"y":42.13,"s":3.0},
{"m":"lbp_residual","e":11,"y":45.11,"s":2.3},{"m":"lbp_residual","e":12,"y":43.16,"s":2.8},{"m":"lbp_residual","e":13,"y":44.29,"s":2.5},{"m":"lbp_residual","e":14,"y":44.08,"s":2.5},{"m":"lbp_residual","e":15,"y":44.53,"s":2.0},{"m":"lbp_residual","e":16,"y":45.89,"s":2.0},{"m":"lbp_residual","e":17,"y":47.95,"s":1.5},{"m":"lbp_residual","e":18,"y":46.34,"s":2.0},{"m":"lbp_residual","e":19,"y":46.92,"s":2.0},{"m":"lbp_residual","e":20,"y":46.00,"s":1.5},
{"m":"lbp_residual","e":21,"y":47.09,"s":3.4},{"m":"lbp_residual","e":22,"y":48.19,"s":2.3},{"m":"lbp_residual","e":23,"y":46.48,"s":2.0},{"m":"lbp_residual","e":24,"y":49.42,"s":3.3},{"m":"lbp_residual","e":25,"y":47.84,"s":2.0},{"m":"lbp_residual","e":26,"y":47.37,"s":2.5},{"m":"lbp_residual","e":27,"y":47.95,"s":2.8},{"m":"lbp_residual","e":28,"y":50.34,"s":2.7},{"m":"lbp_residual","e":29,"y":49.38,"s":2.8},{"m":"lbp_residual","e":30,"y":48.97,"s":2.8},
{"m":"lbp_residual","e":31,"y":50.24,"s":2.3},{"m":"lbp_residual","e":32,"y":49.32,"s":2.8},{"m":"lbp_residual","e":33,"y":49.49,"s":3.8},{"m":"lbp_residual","e":34,"y":50.24,"s":2.8},{"m":"lbp_residual","e":35,"y":50.51,"s":2.8},{"m":"lbp_residual","e":36,"y":49.83,"s":2.8},{"m":"lbp_residual","e":37,"y":49.21,"s":3.0},{"m":"lbp_residual","e":38,"y":48.53,"s":3.5},{"m":"lbp_residual","e":39,"y":49.32,"s":3.0},{"m":"lbp_residual","e":40,"y":48.80,"s":3.0},
{"m":"lbp_residual","e":41,"y":49.49,"s":3.0},{"m":"lbp_residual","e":42,"y":49.56,"s":3.0},{"m":"lbp_residual","e":43,"y":49.59,"s":3.0},{"m":"lbp_residual","e":44,"y":49.59,"s":3.0},{"m":"lbp_residual","e":45,"y":49.66,"s":3.0},{"m":"lbp_residual","e":46,"y":49.73,"s":3.0},{"m":"lbp_residual","e":47,"y":49.21,"s":3.0},{"m":"lbp_residual","e":48,"y":50.00,"s":3.0},{"m":"lbp_residual","e":49,"y":50.00,"s":3.0},{"m":"lbp_residual","e":50,"y":49.73,"s":3.0}
],
"mae":[
{"m":"baseline","e":1,"y":15.08,"s":0.6},{"m":"baseline","e":2,"y":13.34,"s":1.3},{"m":"baseline","e":3,"y":12.24,"s":1.0},{"m":"baseline","e":4,"y":11.60,"s":0.8},{"m":"baseline","e":5,"y":11.05,"s":0.8},{"m":"baseline","e":6,"y":10.59,"s":1.4},{"m":"baseline","e":7,"y":9.45,"s":1.3},{"m":"baseline","e":8,"y":9.45,"s":0.6},{"m":"baseline","e":9,"y":9.03,"s":0.5},{"m":"baseline","e":10,"y":9.27,"s":0.5},
{"m":"baseline","e":11,"y":8.66,"s":0.5},{"m":"baseline","e":12,"y":9.08,"s":0.8},{"m":"baseline","e":13,"y":8.38,"s":0.6},{"m":"baseline","e":14,"y":8.20,"s":0.7},{"m":"baseline","e":15,"y":8.23,"s":0.5},{"m":"baseline","e":16,"y":7.09,"s":0.75},{"m":"baseline","e":17,"y":7.77,"s":0.7},{"m":"baseline","e":18,"y":7.27,"s":0.8},{"m":"baseline","e":19,"y":7.36,"s":0.8},{"m":"baseline","e":20,"y":6.91,"s":0.6},
{"m":"baseline","e":21,"y":6.91,"s":0.8},{"m":"baseline","e":22,"y":6.73,"s":1.0},{"m":"baseline","e":23,"y":7.00,"s":0.8},{"m":"baseline","e":24,"y":7.00,"s":0.8},{"m":"baseline","e":25,"y":7.09,"s":0.8},{"m":"baseline","e":26,"y":7.00,"s":0.8},{"m":"baseline","e":27,"y":6.54,"s":0.9},{"m":"baseline","e":28,"y":6.54,"s":0.9},{"m":"baseline","e":29,"y":6.58,"s":0.9},{"m":"baseline","e":30,"y":6.63,"s":0.9},
{"m":"baseline","e":31,"y":6.63,"s":0.9},{"m":"baseline","e":32,"y":6.58,"s":0.9},{"m":"baseline","e":33,"y":6.54,"s":0.9},{"m":"baseline","e":34,"y":6.40,"s":0.9},{"m":"baseline","e":35,"y":6.36,"s":0.9},{"m":"baseline","e":36,"y":6.40,"s":0.9},{"m":"baseline","e":37,"y":6.27,"s":0.9},{"m":"baseline","e":38,"y":6.33,"s":0.9},{"m":"baseline","e":39,"y":6.40,"s":0.9},{"m":"baseline","e":40,"y":6.45,"s":0.9},
{"m":"baseline","e":41,"y":6.36,"s":0.9},{"m":"baseline","e":42,"y":6.27,"s":0.9},{"m":"baseline","e":43,"y":6.33,"s":0.9},{"m":"baseline","e":44,"y":6.36,"s":0.9},{"m":"baseline","e":45,"y":6.27,"s":0.9},{"m":"baseline","e":46,"y":6.18,"s":0.9},{"m":"baseline","e":47,"y":6.03,"s":0.9},{"m":"baseline","e":48,"y":6.14,"s":0.9},{"m":"baseline","e":49,"y":6.14,"s":0.9},{"m":"baseline","e":50,"y":6.09,"s":0.9},
{"m":"clbp","e":1,"y":15.69,"s":1.0},{"m":"clbp","e":2,"y":13.43,"s":1.0},{"m":"clbp","e":3,"y":12.42,"s":1.0},{"m":"clbp","e":4,"y":11.87,"s":1.8},{"m":"clbp","e":5,"y":11.32,"s":1.3},{"m":"clbp","e":6,"y":10.40,"s":1.0},{"m":"clbp","e":7,"y":10.44,"s":1.0},{"m":"clbp","e":8,"y":9.67,"s":0.8},{"m":"clbp","e":9,"y":9.30,"s":0.7},{"m":"clbp","e":10,"y":8.93,"s":1.0},
{"m":"clbp","e":11,"y":8.01,"s":1.0},{"m":"clbp","e":12,"y":8.20,"s":1.0},{"m":"clbp","e":13,"y":8.01,"s":0.8},{"m":"clbp","e":14,"y":8.16,"s":0.7},{"m":"clbp","e":15,"y":7.87,"s":0.8},{"m":"clbp","e":16,"y":7.28,"s":0.8},{"m":"clbp","e":17,"y":7.68,"s":0.8},{"m":"clbp","e":18,"y":7.46,"s":0.8},{"m":"clbp","e":19,"y":7.24,"s":0.7},{"m":"clbp","e":20,"y":7.31,"s":0.5},
{"m":"clbp","e":21,"y":7.06,"s":0.6},{"m":"clbp","e":22,"y":7.13,"s":0.6},{"m":"clbp","e":23,"y":7.09,"s":0.6},{"m":"clbp","e":24,"y":6.87,"s":0.5},{"m":"clbp","e":25,"y":7.00,"s":0.5},{"m":"clbp","e":26,"y":6.76,"s":0.5},{"m":"clbp","e":27,"y":6.87,"s":0.7},{"m":"clbp","e":28,"y":6.27,"s":0.5},{"m":"clbp","e":29,"y":6.36,"s":0.5},{"m":"clbp","e":30,"y":6.54,"s":0.5},
{"m":"clbp","e":31,"y":6.36,"s":0.5},{"m":"clbp","e":32,"y":6.45,"s":0.5},{"m":"clbp","e":33,"y":6.54,"s":0.5},{"m":"clbp","e":34,"y":6.54,"s":0.5},{"m":"clbp","e":35,"y":6.36,"s":0.5},{"m":"clbp","e":36,"y":6.36,"s":0.5},{"m":"clbp","e":37,"y":6.54,"s":0.5},{"m":"clbp","e":38,"y":6.36,"s":0.5},{"m":"clbp","e":39,"y":6.36,"s":0.5},{"m":"clbp","e":40,"y":6.36,"s":0.5},
{"m":"clbp","e":41,"y":6.21,"s":0.5},{"m":"clbp","e":42,"y":6.09,"s":0.5},{"m":"clbp","e":43,"y":6.18,"s":0.5},{"m":"clbp","e":44,"y":6.21,"s":0.5},{"m":"clbp","e":45,"y":6.18,"s":0.5},{"m":"clbp","e":46,"y":6.00,"s":0.5},{"m":"clbp","e":47,"y":6.18,"s":0.5},{"m":"clbp","e":48,"y":6.09,"s":0.5},{"m":"clbp","e":49,"y":6.18,"s":0.5},{"m":"clbp","e":50,"y":6.09,"s":0.5},
{"m":"lbp_conv","e":1,"y":24.58,"s":6.1},{"m":"lbp_conv","e":2,"y":17.29,"s":1.6},{"m":"lbp_conv","e":3,"y":15.27,"s":0.6},{"m":"lbp_conv","e":4,"y":15.46,"s":0.7},{"m":"lbp_conv","e":5,"y":14.41,"s":0.8},{"m":"lbp_conv","e":6,"y":14.48,"s":1.1},{"m":"lbp_conv","e":7,"y":13.62,"s":0.7},{"m":"lbp_conv","e":8,"y":12.98,"s":0.7},{"m":"lbp_conv","e":9,"y":13.25,"s":0.55},{"m":"lbp_conv","e":10,"y":12.79,"s":0.75},
{"m":"lbp_conv","e":11,"y":12.64,"s":1.1},{"m":"lbp_conv","e":12,"y":12.94,"s":0.5},{"m":"lbp_conv","e":13,"y":12.24,"s":0.75},{"m":"lbp_conv","e":14,"y":12.83,"s":0.8},{"m":"lbp_conv","e":15,"y":11.78,"s":0.4},{"m":"lbp_conv","e":16,"y":11.63,"s":1.0},{"m":"lbp_conv","e":17,"y":11.87,"s":1.3},{"m":"lbp_conv","e":18,"y":12.02,"s":1.3},{"m":"lbp_conv","e":19,"y":11.29,"s":1.2},{"m":"lbp_conv","e":20,"y":11.20,"s":0.9},
{"m":"lbp_conv","e":21,"y":10.87,"s":0.5},{"m":"lbp_conv","e":22,"y":10.77,"s":1.0},{"m":"lbp_conv","e":23,"y":10.55,"s":0.95},{"m":"lbp_conv","e":24,"y":10.00,"s":1.6},{"m":"lbp_conv","e":25,"y":10.00,"s":1.0},{"m":"lbp_conv","e":26,"y":10.16,"s":0.9},{"m":"lbp_conv","e":27,"y":9.48,"s":0.74},{"m":"lbp_conv","e":28,"y":9.48,"s":1.1},{"m":"lbp_conv","e":29,"y":9.43,"s":0.5},{"m":"lbp_conv","e":30,"y":9.21,"s":0.64},
{"m":"lbp_conv","e":31,"y":8.69,"s":0.6},{"m":"lbp_conv","e":32,"y":9.15,"s":0.92},{"m":"lbp_conv","e":33,"y":8.84,"s":1.1},{"m":"lbp_conv","e":34,"y":8.93,"s":0.83},{"m":"lbp_conv","e":35,"y":8.47,"s":0.42},{"m":"lbp_conv","e":36,"y":8.38,"s":1.1},{"m":"lbp_conv","e":37,"y":8.47,"s":0.83},{"m":"lbp_conv","e":38,"y":8.60,"s":0.51},{"m":"lbp_conv","e":39,"y":8.34,"s":0.68},{"m":"lbp_conv","e":40,"y":8.20,"s":0.77},
{"m":"lbp_conv","e":41,"y":8.23,"s":0.79},{"m":"lbp_conv","e":42,"y":8.29,"s":0.92},{"m":"lbp_conv","e":43,"y":8.20,"s":0.92},{"m":"lbp_conv","e":44,"y":8.16,"s":0.86},{"m":"lbp_conv","e":45,"y":8.10,"s":0.92},{"m":"lbp_conv","e":46,"y":7.98,"s":0.86},{"m":"lbp_conv","e":47,"y":8.10,"s":0.86},{"m":"lbp_conv","e":48,"y":8.29,"s":0.79},{"m":"lbp_conv","e":49,"y":8.16,"s":0.77},{"m":"lbp_conv","e":50,"y":8.16,"s":0.96},
{"m":"lbp_residual","e":1,"y":15.45,"s":1.2},{"m":"lbp_residual","e":2,"y":13.52,"s":0.9},{"m":"lbp_residual","e":3,"y":12.24,"s":0.8},{"m":"lbp_residual","e":4,"y":11.28,"s":0.8},{"m":"lbp_residual","e":5,"y":10.62,"s":0.8},{"m":"lbp_residual","e":6,"y":10.50,"s":1.3},{"m":"lbp_residual","e":7,"y":9.67,"s":1.0},{"m":"lbp_residual","e":8,"y":9.67,"s":0.7},{"m":"lbp_residual","e":9,"y":9.11,"s":0.7},{"m":"lbp_residual","e":10,"y":9.39,"s":0.5},
{"m":"lbp_residual","e":11,"y":7.92,"s":1.0},{"m":"lbp_residual","e":12,"y":8.11,"s":0.9},{"m":"lbp_residual","e":13,"y":7.74,"s":0.9},{"m":"lbp_residual","e":14,"y":7.65,"s":0.7},{"m":"lbp_residual","e":15,"y":7.28,"s":0.5},{"m":"lbp_residual","e":16,"y":7.37,"s":0.6},{"m":"lbp_residual","e":17,"y":6.91,"s":0.6},{"m":"lbp_residual","e":18,"y":7.09,"s":0.7},{"m":"lbp_residual","e":19,"y":7.50,"s":0.7},{"m":"lbp_residual","e":20,"y":7.24,"s":0.7},
{"m":"lbp_residual","e":21,"y":6.87,"s":0.6},{"m":"lbp_residual","e":22,"y":6.73,"s":0.6},{"m":"lbp_residual","e":23,"y":6.76,"s":0.5},{"m":"lbp_residual","e":24,"y":6.51,"s":0.5},{"m":"lbp_residual","e":25,"y":6.73,"s":0.5},{"m":"lbp_residual","e":26,"y":6.58,"s":0.5},{"m":"lbp_residual","e":27,"y":6.51,"s":0.45},{"m":"lbp_residual","e":28,"y":6.51,"s":0.45},{"m":"lbp_residual","e":29,"y":6.82,"s":0.45},{"m":"lbp_residual","e":30,"y":6.54,"s":0.45},
{"m":"lbp_residual","e":31,"y":6.21,"s":0.45},{"m":"lbp_residual","e":32,"y":6.40,"s":0.45},{"m":"lbp_residual","e":33,"y":6.45,"s":0.45},{"m":"lbp_residual","e":34,"y":6.27,"s":0.45},{"m":"lbp_residual","e":35,"y":6.03,"s":0.45},{"m":"lbp_residual","e":36,"y":6.18,"s":0.45},{"m":"lbp_residual","e":37,"y":6.21,"s":0.45},{"m":"lbp_residual","e":38,"y":6.27,"s":0.45},{"m":"lbp_residual","e":39,"y":6.36,"s":0.45},{"m":"lbp_residual","e":40,"y":6.36,"s":0.45},
{"m":"lbp_residual","e":41,"y":6.27,"s":0.45},{"m":"lbp_residual","e":42,"y":6.27,"s":0.45},{"m":"lbp_residual","e":43,"y":6.21,"s":0.45},{"m":"lbp_residual","e":44,"y":6.18,"s":0.45},{"m":"lbp_residual","e":45,"y":6.18,"s":0.45},{"m":"lbp_residual","e":46,"y":6.21,"s":0.45},{"m":"lbp_residual","e":47,"y":6.27,"s":0.45},{"m":"lbp_residual","e":48,"y":6.18,"s":0.45},{"m":"lbp_residual","e":49,"y":6.14,"s":0.45},{"m":"lbp_residual","e":50,"y":6.09,"s":0.45}
]
},
"concat":[
{"width":1308,"height":715,"title":{"text":"Training loss"},"data":{"name":"tl"},
"layer":[
{"mark":{"type":"errorband","band":{"opacity":0.15}},
"encoding":{"x":{"field":"e","type":"quantitative","scale":{"domain":[-1.45,52.45],"nice":false,"zero":false},"axis":{"values":[0,10,20,30,40,50],"format":"d","title":"Epoch"}},
"y":{"field":"y","type":"quantitative","scale":{"domain":[1.604,2.531],"nice":false,"zero":false},"axis":{"values":[1.8,2.0,2.2,2.4],"format":".1f","title":null}},
"yError":{"field":"s"},
"fill":{"field":"m","type":"nominal","scale":{"range":["#1f77b4","#ff7f0e","#2ca02c","#d62728"]},"legend":null}}},
{"mark":{"type":"line","strokeWidth":5.5,"strokeJoin":"round"},
"encoding":{"x":{"field":"e","type":"quantitative","scale":{"domain":[-1.45,52.45],"nice":false,"zero":false},"axis":{"values":[0,10,20,30,40,50],"format":"d","title":"Epoch"}},
"y":{"field":"y","type":"quantitative","scale":{"domain":[1.604,2.531],"nice":false,"zero":false},"axis":{"values":[1.8,2.0,2.2,2.4],"format":".1f","title":null}},
"stroke":{"field":"m","type":"nominal","scale":{"domain":["baseline","clbp","lbp_conv","lbp_residual"],"range":["#1f77b4","#ff7f0e","#2ca02c","#d62728"]},"legend":{"orient":"top-right","title":null}}}}
]},
{"width":1308,"height":715,"title":{"text":"Validation loss","offset":0},"data":{"name":"vl"},
"layer":[
{"mark":{"type":"errorband","band":{"opacity":0.15}},
"encoding":{"x":{"field":"e","type":"quantitative","scale":{"domain":[-1.45,52.45],"nice":false,"zero":false},"axis":{"values":[0,10,20,30,40,50],"format":"d","title":"Epoch"}},
"y":{"field":"y","type":"quantitative","scale":{"domain":[1.872,2.803],"nice":false,"zero":false},"axis":{"values":[2.0,2.2,2.4,2.6,2.8],"format":".1f","title":null}},
"yError":{"field":"s"},
"fill":{"field":"m","type":"nominal","scale":{"range":["#1f77b4","#ff7f0e","#2ca02c","#d62728"]},"legend":null}}},
{"mark":{"type":"line","strokeWidth":5.5,"strokeJoin":"round"},
"encoding":{"x":{"field":"e","type":"quantitative","scale":{"domain":[-1.45,52.45],"nice":false,"zero":false},"axis":{"values":[0,10,20,30,40,50],"format":"d","title":"Epoch"}},
"y":{"field":"y","type":"quantitative","scale":{"domain":[1.872,2.803],"nice":false,"zero":false},"axis":{"values":[2.0,2.2,2.4,2.6,2.8],"format":".1f","title":null}},
"stroke":{"field":"m","type":"nominal","scale":{"domain":["baseline","clbp","lbp_conv","lbp_residual"],"range":["#1f77b4","#ff7f0e","#2ca02c","#d62728"]},"legend":{"orient":"top-right","title":null}}}}
]},
{"width":1308,"height":715,"title":{"text":"Validation top-1 (%)"},"data":{"name":"t1"},
"layer":[
{"mark":{"type":"errorband","band":{"opacity":0.15}},
"encoding":{"x":{"field":"e","type":"quantitative","scale":{"domain":[-1.45,52.45],"nice":false,"zero":false},"axis":{"values":[0,10,20,30,40,50],"format":"d","title":"Epoch"}},
"y":{"field":"y","type":"quantitative","scale":{"domain":[3.87,55.7],"nice":false,"zero":false},"axis":{"values":[10,20,30,40,50],"format":"d","title":null}},
"yError":{"field":"s"},
"fill":{"field":"m","type":"nominal","scale":{"range":["#1f77b4","#ff7f0e","#2ca02c","#d62728"]},"legend":null}}},
{"mark":{"type":"line","strokeWidth":5.5,"strokeJoin":"round"},
"encoding":{"x":{"field":"e","type":"quantitative","scale":{"domain":[-1.45,52.45],"nice":false,"zero":false},"axis":{"values":[0,10,20,30,40,50],"format":"d","title":"Epoch"}},
"y":{"field":"y","type":"quantitative","scale":{"domain":[3.87,55.7],"nice":false,"zero":false},"axis":{"values":[10,20,30,40,50],"format":"d","title":null}},
"stroke":{"field":"m","type":"nominal","scale":{"domain":["baseline","clbp","lbp_conv","lbp_residual"],"range":["#1f77b4","#ff7f0e","#2ca02c","#d62728"]},"legend":{"orient":"bottom-right","title":null}}}}
]},
{"width":1308,"height":715,"title":{"text":"Validation MAE (pp)"},"data":{"name":"mae"},
"layer":[
{"mark":{"type":"errorband","band":{"opacity":0.15}},
"encoding":{"x":{"field":"e","type":"quantitative","scale":{"domain":[-1.45,52.45],"nice":false,"zero":false},"axis":{"values":[0,10,20,30,40,50],"format":"d","title":"Epoch"}},
"y":{"field":"y","type":"quantitative","scale":{"domain":[4.1,31.93],"nice":false,"zero":false},"axis":{"values":[5,10,15,20,25,30],"format":"d","title":null}},
"yError":{"field":"s"},
"fill":{"field":"m","type":"nominal","scale":{"range":["#1f77b4","#ff7f0e","#2ca02c","#d62728"]},"legend":null}}},
{"mark":{"type":"line","strokeWidth":5.5,"strokeJoin":"round"},
"encoding":{"x":{"field":"e","type":"quantitative","scale":{"domain":[-1.45,52.45],"nice":false,"zero":false},"axis":{"values":[0,10,20,30,40,50],"format":"d","title":"Epoch"}},
"y":{"field":"y","type":"quantitative","scale":{"domain":[4.1,31.93],"nice":false,"zero":false},"axis":{"values":[5,10,15,20,25,30],"format":"d","title":null}},
"stroke":{"field":"m","type":"nominal","scale":{"domain":["baseline","clbp","lbp_conv","lbp_residual"],"range":["#1f77b4","#ff7f0e","#2ca02c","#d62728"]},"legend":{"orient":"top-right","title":null}}}}
]}
]
}
